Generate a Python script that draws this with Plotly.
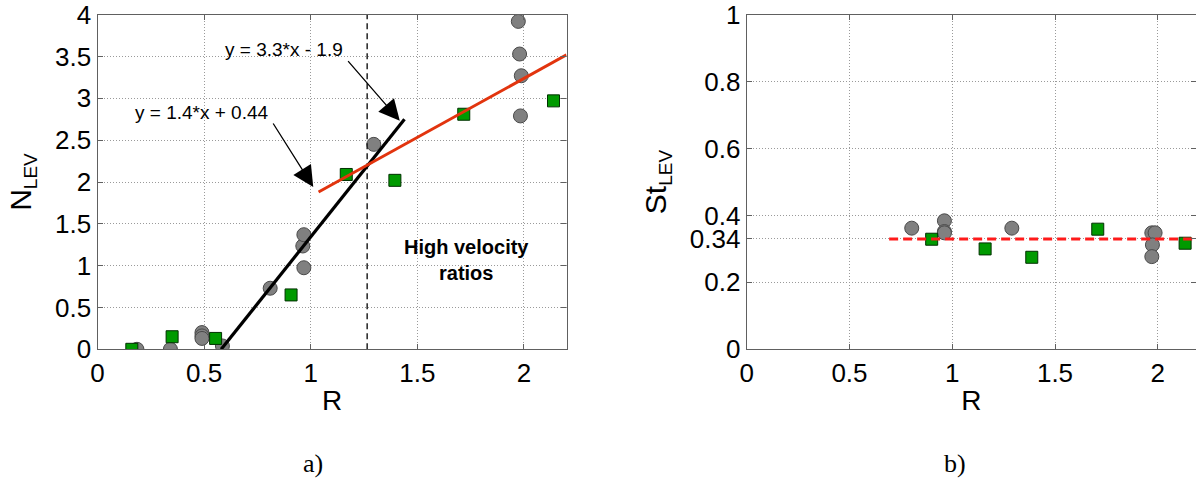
import plotly.graph_objects as go

# ---------------- Data: panel a) N_LEV vs R ----------------
r_circ_a = [0.185, 0.342, 0.49, 0.49, 0.49, 0.586, 0.81, 0.963, 0.968, 0.968, 1.296, 1.974, 1.98, 1.988, 1.984]
n_circ_a = [0.0, 0.0, 0.2, 0.16, 0.13, 0.04, 0.73, 1.235, 1.37, 0.975, 2.45, 3.92, 3.53, 3.27, 2.79]
r_sq_a = [0.161, 0.35, 0.554, 0.908, 1.167, 1.395, 1.718, 2.139]
n_sq_a = [0.0, 0.15, 0.13, 0.65, 2.09, 2.02, 2.81, 2.97]
fit_low_r = [0.58, 1.44]
fit_low_n = [0.0, 2.75]
fit_high_r = [1.037, 2.2]
fit_high_n = [1.88, 3.52]
threshold_r = [1.265, 1.265]
threshold_n = [0.0, 4.0]
ticks_a_x = [0, 0.5, 1, 1.5, 2]
ticks_a_x_text = ["0", "0.5", "1", "1.5", "2"]
ticks_a_y = [0, 0.5, 1, 1.5, 2, 2.5, 3, 3.5, 4]
ticks_a_y_text = ["0", "0.5", "1", "1.5", "2", "2.5", "3", "3.5", "4"]

# ---------------- Data: panel b) St_LEV vs R ----------------
r_circ_b = [0.803, 0.962, 0.962, 0.962, 1.29, 1.971, 1.987, 1.974, 1.971]
st_circ_b = [0.362, 0.384, 0.352, 0.348, 0.362, 0.348, 0.348, 0.312, 0.277]
r_sq_b = [0.9, 1.16, 1.387, 1.708, 2.133]
st_sq_b = [0.329, 0.30, 0.275, 0.359, 0.317]
mean_r = [0.693, 2.2]
mean_st = [0.33, 0.33]
ticks_b_x = [0, 0.5, 1, 1.5, 2]
ticks_b_x_text = ["0", "0.5", "1", "1.5", "2"]
ticks_b_y = [0, 0.2, 0.33, 0.4, 0.6, 0.8, 1]
ticks_b_y_text = ["0", "0.2", "0.34", "0.4", "0.6", "0.8", "1"]

GRAY_FILL = "#808080"
GRAY_EDGE = "#4a4a4a"
GREEN_FILL = "#009a00"
GREEN_EDGE = "#003000"
FONT = "Liberation Sans, Arial, sans-serif"

W, H = 1196, 480

circ_marker = dict(symbol="circle", size=14, color=GRAY_FILL, line=dict(color=GRAY_EDGE, width=1))
sq_marker = dict(symbol="square", size=12, color=GREEN_FILL, line=dict(color=GREEN_EDGE, width=1))

fig = go.Figure()

# panel a
fig.add_trace(go.Scatter(x=r_circ_a, y=n_circ_a, mode="markers", marker=circ_marker,
                         xaxis="x", yaxis="y", showlegend=False))
fig.add_trace(go.Scatter(x=r_sq_a, y=n_sq_a, mode="markers", marker=sq_marker,
                         xaxis="x", yaxis="y", showlegend=False))
fig.add_trace(go.Scatter(x=threshold_r, y=threshold_n, mode="lines",
                         line=dict(color="#222222", width=1.5, dash="6px,4px"),
                         xaxis="x", yaxis="y", showlegend=False))
fig.add_trace(go.Scatter(x=fit_low_r, y=fit_low_n, mode="lines",
                         line=dict(color="black", width=3.2),
                         xaxis="x", yaxis="y", showlegend=False))
fig.add_trace(go.Scatter(x=fit_high_r, y=fit_high_n, mode="lines",
                         line=dict(color="#e2340e", width=3),
                         xaxis="x", yaxis="y", showlegend=False))

# panel b
fig.add_trace(go.Scatter(x=r_circ_b, y=st_circ_b, mode="markers", marker=circ_marker,
                         xaxis="x2", yaxis="y2", showlegend=False))
fig.add_trace(go.Scatter(x=r_sq_b, y=st_sq_b, mode="markers", marker=sq_marker,
                         xaxis="x2", yaxis="y2", showlegend=False))
fig.add_trace(go.Scatter(x=mean_r, y=mean_st, mode="lines",
                         line=dict(color="#ff1a1a", width=3, dash="9px,5px"),
                         xaxis="x2", yaxis="y2", showlegend=False))

axis_common = dict(
    showline=True, linecolor="#606060", linewidth=1.2, mirror="ticks",
    ticks="inside", ticklen=5, tickcolor="#606060", tickwidth=1,
    showgrid=True, gridcolor="#9a9a9a", griddash="1px,2px", gridwidth=1,
    zeroline=False, tickfont=dict(family=FONT, size=26, color="black"),
    tickmode="array", automargin=False, ticklabeloverflow="allow",
)

ydom = [(H - 349.3) / H, (H - 14.7) / H]
fig.update_layout(
    width=W, height=H,
    margin=dict(l=0, r=0, t=0, b=0),
    paper_bgcolor="white", plot_bgcolor="white",
    font=dict(family=FONT, color="black"),
    xaxis=dict(axis_common, domain=[97.5 / W, 566.5 / W], range=[0, 2.2],
               tickvals=ticks_a_x, ticktext=ticks_a_x_text,
               title=dict(text="R", font=dict(family=FONT, size=28), standoff=3)),
    yaxis=dict(axis_common, domain=ydom, range=[0, 4],
               tickvals=ticks_a_y, ticktext=ticks_a_y_text,
               title=dict(text="N<sub><span style='font-size:19px'>LEV</span></sub>",
                          font=dict(family=FONT, size=30), standoff=14)),
    xaxis2=dict(axis_common, domain=[746.7 / W, 1.0], range=[0, 2.186], anchor="y2",
                tickvals=ticks_b_x, ticktext=ticks_b_x_text,
                title=dict(text="R", font=dict(family=FONT, size=28), standoff=3)),
    yaxis2=dict(axis_common, domain=ydom, range=[0, 1], anchor="x2",
                tickvals=ticks_b_y, ticktext=ticks_b_y_text,
                title=dict(text="St<sub><span style='font-size:19px'>LEV</span></sub>",
                           font=dict(family=FONT, size=30), standoff=14)),
)

ann_font = dict(family=FONT, size=19, color="black")
cap_font = dict(family="Liberation Serif, DejaVu Serif, serif", size=26, color="black")
annotations = [
    # equation labels
    dict(x=0.876, y=3.59, xref="x", yref="y", text="y = 3.3*x - 1.9", showarrow=False, font=ann_font),
    dict(x=0.488, y=2.83, xref="x", yref="y", text="y = 1.4*x + 0.44", showarrow=False, font=ann_font),
    # arrows
    dict(x=1.418, y=2.733, xref="x", yref="y", text="", showarrow=True, ax=-53, ay=-61,
         arrowhead=2, arrowsize=3.2, arrowwidth=1.3, arrowcolor="black"),
    dict(x=1.012, y=1.94, xref="x", yref="y", text="", showarrow=True, ax=-41, ay=-65,
         arrowhead=2, arrowsize=3.2, arrowwidth=1.3, arrowcolor="black"),
    # region label
    dict(x=1.733, y=1.07, xref="x", yref="y", text="<b>High velocity<br>ratios</b>", showarrow=False,
         font=dict(family=FONT, size=20, color="black"), align="center"),
    # panel captions
    dict(x=313 / W, y=(H - 463) / H, xref="paper", yref="paper", text="a)", showarrow=False,
         xanchor="center", yanchor="middle", font=cap_font),
    dict(x=955 / W, y=(H - 463) / H, xref="paper", yref="paper", text="b)", showarrow=False,
         xanchor="center", yanchor="middle", font=cap_font),
]
fig.update_layout(annotations=annotations)

fig.write_html("out.html", config={"displayModeBar": False},
               post_script="document.body.style.margin='0';document.body.style.overflow='hidden';")
